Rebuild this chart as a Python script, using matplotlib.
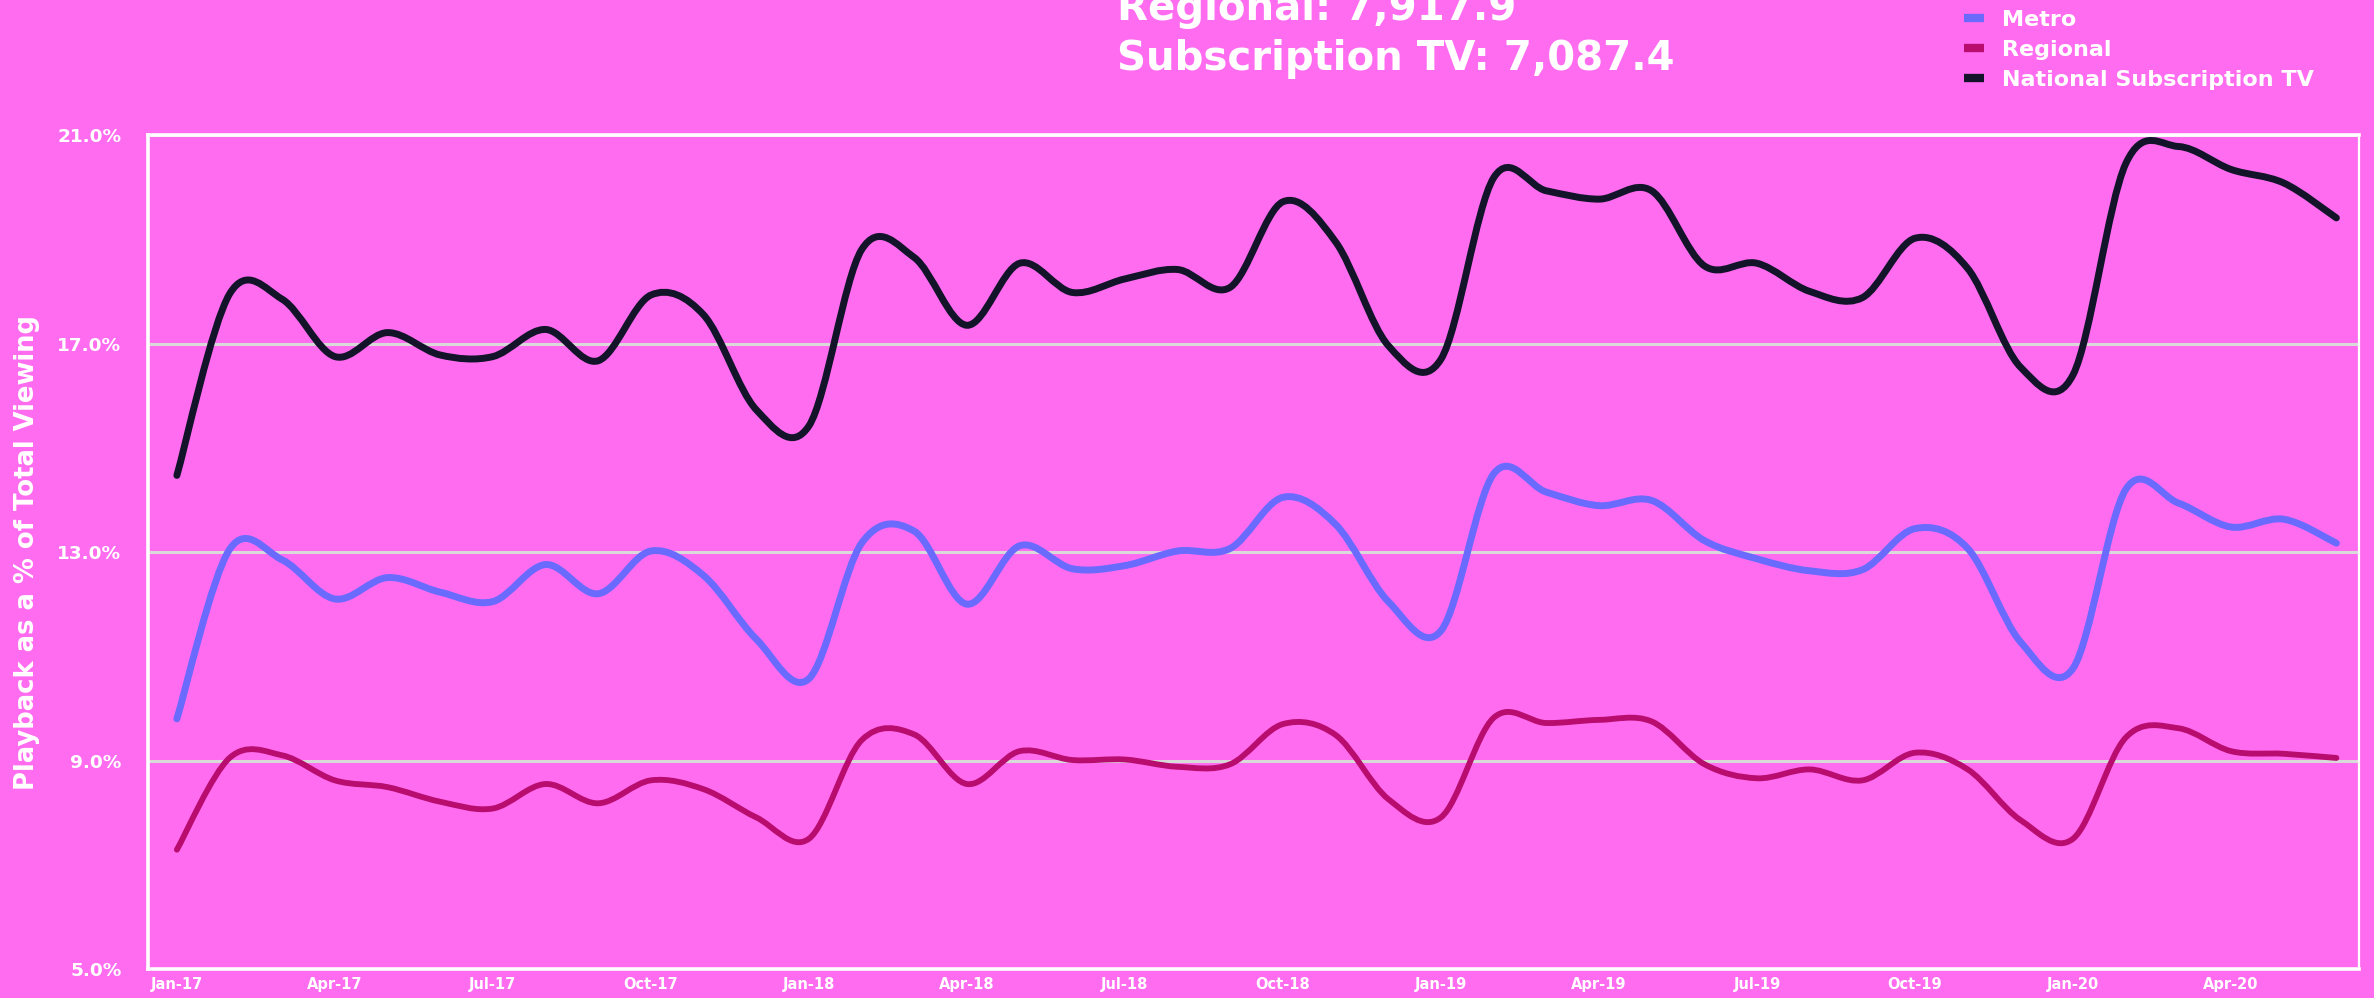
import matplotlib
matplotlib.use("Agg")
import matplotlib.pyplot as plt
from matplotlib.path import Path
from matplotlib.patches import PathPatch
from matplotlib.lines import Line2D
import numpy as np

# monthly data, Jan-17 .. Jun-20
months = ["Jan-17", "Feb-17", "Mar-17", "Apr-17", "May-17", "Jun-17", "Jul-17", "Aug-17",
          "Sep-17", "Oct-17", "Nov-17", "Dec-17", "Jan-18", "Feb-18", "Mar-18", "Apr-18",
          "May-18", "Jun-18", "Jul-18", "Aug-18", "Sep-18", "Oct-18", "Nov-18", "Dec-18",
          "Jan-19", "Feb-19", "Mar-19", "Apr-19", "May-19", "Jun-19", "Jul-19", "Aug-19",
          "Sep-19", "Oct-19", "Nov-19", "Dec-19", "Jan-20", "Feb-20", "Mar-20", "Apr-20",
          "May-20", "Jun-20"]

metro = [9.80, 13.05, 12.85, 12.10, 12.51, 12.23, 12.05, 12.76, 12.20, 13.02, 12.55,
         11.33, 10.57, 13.17, 13.40, 12.00, 13.12, 12.68, 12.74, 13.02, 13.07, 14.05,
         13.53, 12.05, 11.49, 14.50, 14.15, 13.89, 13.99, 13.22, 12.87, 12.64, 12.66,
         13.45, 13.07, 11.28, 10.77, 14.20, 13.94, 13.48, 13.63, 13.17]

regional = [7.29, 9.05, 9.10, 8.62, 8.49, 8.21, 8.08, 8.55, 8.18, 8.62, 8.45,
            7.91, 7.50, 9.39, 9.50, 8.55, 9.18, 9.01, 9.02, 8.88, 8.93, 9.70,
            9.49, 8.26, 7.91, 9.82, 9.72, 9.78, 9.75, 8.93, 8.66, 8.83, 8.62,
            9.15, 8.83, 7.86, 7.50, 9.44, 9.62, 9.18, 9.13, 9.05]

national_stv = [14.47, 17.95, 17.85, 16.75, 17.21, 16.78, 16.75, 17.27, 16.67, 17.93, 17.55,
                15.73, 15.42, 18.80, 18.65, 17.35, 18.54, 17.98, 18.24, 18.42, 18.08, 19.72,
                18.95, 16.96, 16.70, 20.18, 19.93, 19.77, 19.93, 18.49, 18.54, 18.00, 17.88,
                19.02, 18.44, 16.55, 16.40, 20.45, 20.78, 20.34, 20.08, 19.41]

series_names = ["Metro", "Regional", "National Subscription TV"]
tick_labels = ["Jan-17", "Apr-17", "Jul-17", "Oct-17", "Jan-18", "Apr-18", "Jul-18",
               "Oct-18", "Jan-19", "Apr-19", "Jul-19", "Oct-19", "Jan-20", "Apr-20"]
y_ticks = [5, 9, 13, 17, 21]
headline = ["Regional: 7,917.9", "Subscription TV: 7,087.4"]

# colours
bg = "#FF6CF0"
colours = {"Metro": "#6A6AFF", "Regional": "#B80C6E", "National Subscription TV": "#13132A"}
widths = {"Metro": 5.0, "Regional": 4.2, "National Subscription TV": 5.0}

plt.rcParams['font.family'] = ['DejaVu Sans']
plt.rcParams['font.weight'] = 'bold'


def smooth_path(xs, ys):
    # excel-style smoothed line: cubic bezier segments through the data points
    pts = np.column_stack([xs, ys]).astype(float)
    n = len(pts)
    verts = [pts[0]]
    codes = [Path.MOVETO]
    for i in range(n - 1):
        p0 = pts[max(i - 1, 0)]
        p1 = pts[i]
        p2 = pts[i + 1]
        p3 = pts[min(i + 2, n - 1)]
        c1 = p1 + (p2 - p0) / 6.0
        c2 = p2 - (p3 - p1) / 6.0
        verts += [c1, c2, p2]
        codes += [Path.CURVE4] * 3
    return Path(verts, codes)


fig = plt.figure(figsize=(23.74, 9.98), dpi=100, facecolor=bg)
ax = fig.add_axes([0.0623, 0.029, 0.9314, 0.8357])
ax.set_facecolor(bg)

x = np.arange(len(months))
handles = []
for name, vals in zip(series_names, [metro, regional, national_stv]):
    patch = PathPatch(smooth_path(x, vals), facecolor='none', edgecolor=colours[name],
                      lw=widths[name], capstyle='round', joinstyle='round', zorder=3)
    ax.add_patch(patch)
    handles.append(Line2D([], [], color=colours[name], lw=6, solid_capstyle='butt'))

ax.set_xlim(-0.55, 41.43)
ax.set_ylim(5, 21)

tick_pos = [months.index(t) for t in tick_labels]
ax.set_xticks(tick_pos)
ax.set_xticklabels(tick_labels, fontsize=10.5, color='white', fontweight='bold')
ax.set_yticks(y_ticks)
ax.set_yticklabels([f"{v:.1f}%" for v in y_ticks], fontsize=13.3, color='white',
                   fontweight='bold')
ax.tick_params(axis='x', length=0, pad=6)
ax.tick_params(axis='y', length=0, pad=19)

ax.yaxis.grid(True, color='#D9D9D9', lw=2.2)
ax.set_axisbelow(True)
for side in ['left', 'bottom', 'top']:
    ax.spines[side].set_color('white')
    ax.spines[side].set_linewidth(2.6)
ax.spines['right'].set_color('white')
ax.spines['right'].set_linewidth(1.6)

fig.text(0.0115, 0.446, "Playback as a % of Total Viewing", rotation=90,
         ha='center', va='center', fontsize=18.6, color='white', fontweight='bold')

# headline numbers (first line runs off the top edge, as in the original)
fig.text(0.4705, 0.9905, headline[0], ha='left', va='center', fontsize=29,
         color='white', fontweight='bold')
fig.text(0.4705, 0.9405, headline[1], ha='left', va='center', fontsize=29,
         color='white', fontweight='bold')

fig.legend(handles, series_names, loc='upper left', bbox_to_anchor=(0.819, 1.010),
           frameon=False, handlelength=0.9, handletextpad=0.8, labelspacing=0.45,
           prop={'size': 16, 'weight': 'bold'}, labelcolor='white')

plt.savefig("out.png", dpi=100, facecolor=bg)
